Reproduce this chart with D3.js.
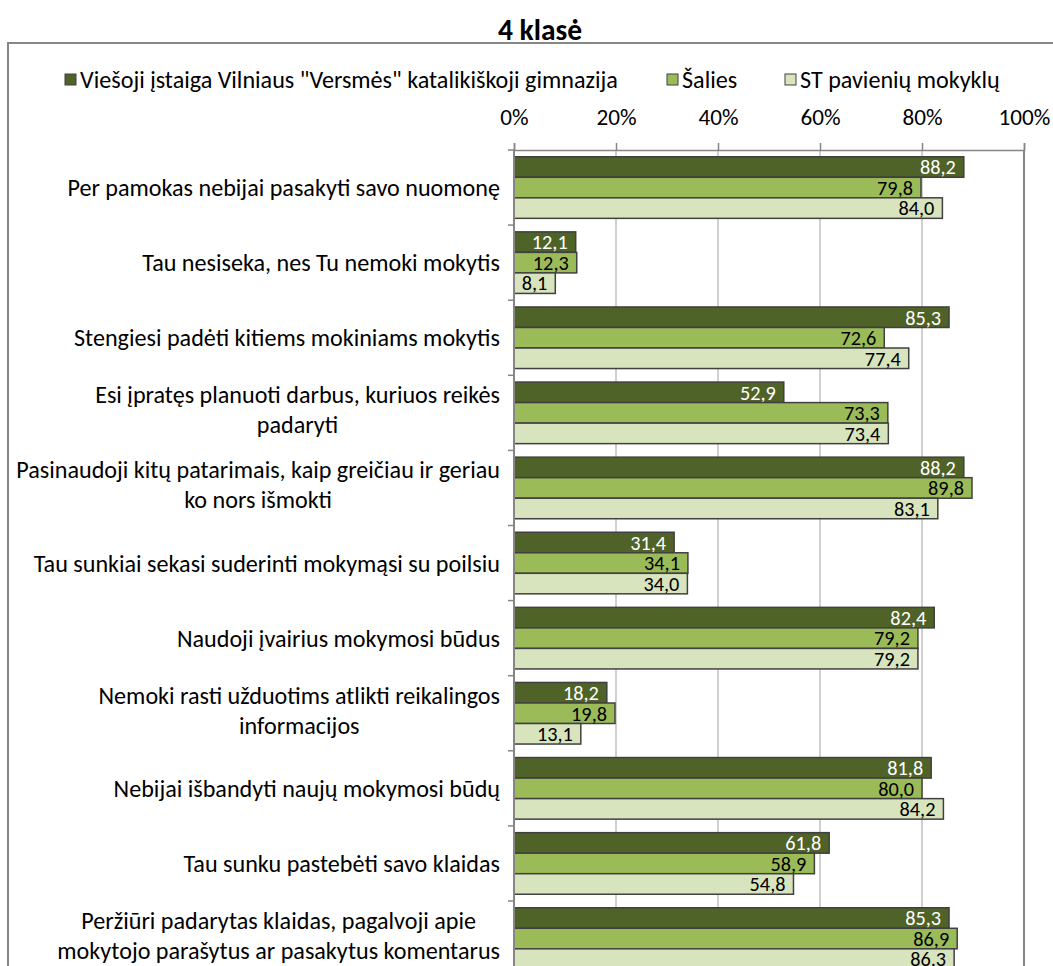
<!DOCTYPE html>
<html><head><meta charset="utf-8">
<script src="https://cdn.jsdelivr.net/npm/d3@7"></script>
<style>
html,body{margin:0;padding:0;background:#fff;}
svg{display:block;font-family:Carlito,Calibri,"Open Sans",sans-serif;}
</style></head><body>
<svg id="c" width="1053" height="966"></svg>
<script>
const categories = [
  ["Per pamokas nebijai pasakyti savo nuomonę"],
  ["Tau nesiseka, nes Tu nemoki mokytis"],
  ["Stengiesi padėti kitiems mokiniams mokytis"],
  ["Esi įpratęs planuoti darbus, kuriuos reikės", "padaryti"],
  ["Pasinaudoji kitų patarimais, kaip greičiau ir geriau", "ko nors išmokti"],
  ["Tau sunkiai sekasi suderinti mokymąsi su poilsiu"],
  ["Naudoji įvairius mokymosi būdus"],
  ["Nemoki rasti užduotims atlikti reikalingos", "informacijos"],
  ["Nebijai išbandyti naujų mokymosi būdų"],
  ["Tau sunku pastebėti savo klaidas"],
  ["Peržiūri padarytas klaidas, pagalvoji apie", "mokytojo parašytus ar pasakytus komentarus"]
];
const seriesNames = ["Viešoji įstaiga Vilniaus \"Versmės\" katalikiškoji gimnazija", "Šalies", "ST pavienių mokyklų"];
const gymnasium = [88.2, 12.1, 85.3, 52.9, 88.2, 31.4, 82.4, 18.2, 81.8, 61.8, 85.3];
const country   = [79.8, 12.3, 72.6, 73.3, 89.8, 34.1, 79.2, 19.8, 80.0, 58.9, 86.9];
const stSchools = [84.0, 8.1, 77.4, 73.4, 83.1, 34.0, 79.2, 13.1, 84.2, 54.8, 86.3];
const tickValues = [0, 20, 40, 60, 80, 100];
const title = "4 klasė";

const colors = ["#4f6228", "#9bbb59", "#d7e4bd"];
const labelColors = ["#ffffff", "#000000", "#000000"];
const series = [gymnasium, country, stSchools];

const svg = d3.select("#c");

// calibrate font size so the longest single-line label has the reference's width
const probe = svg.append("text").attr("font-size", 100).text(categories[0][0]);
const FS = Math.min(26, 100 * 433 / probe.node().getComputedTextLength());
probe.remove();

// chart border
svg.append("rect").attr("x", 8).attr("y", 43).attr("width", 1100).attr("height", 1000)
  .attr("fill", "#fff").attr("stroke", "#868686").attr("stroke-width", 2);

svg.append("text").attr("x", 540).attr("y", 40).attr("text-anchor", "middle")
  .attr("font-size", FS * 1.22).attr("font-weight", "bold").text(title);

const pLeft = 514, pRight = 1024, pTop = 150;
const bandH = 75.1;
const x = d3.scaleLinear().domain([0, 100]).range([pLeft, pRight]);
const y = d3.scaleBand().domain(d3.range(categories.length)).range([pTop, pTop + bandH * categories.length]).paddingInner(0.18).paddingOuter(0.09);
const yi = d3.scaleBand().domain([0, 1, 2]).range([0, y.bandwidth()]);

// gridlines
svg.append("g").selectAll("line").data(tickValues.slice(1)).join("line")
  .attr("x1", d => x(d)).attr("x2", d => x(d)).attr("y1", pTop).attr("y2", 1000)
  .attr("stroke", d => d === 100 ? "#868686" : "#c0c0c0").attr("stroke-width", d => d === 100 ? 2 : 1.5);

// top axis
const xAxis = d3.axisTop(x).tickValues(tickValues).tickSize(7).tickFormat(d => d + "%");
const gx = svg.append("g").attr("transform", `translate(0,${pTop})`).call(xAxis);
gx.select(".domain").attr("stroke", "#868686").attr("stroke-width", 1.5);
gx.selectAll(".tick line").attr("stroke", "#868686").attr("stroke-width", 1.5);
gx.attr("font-family", null).attr("font-size", FS * 0.96);
gx.selectAll(".tick text").attr("fill", "#000").attr("dy", "0.35em").attr("y", -33);

// bars
const groups = svg.append("g").selectAll("g").data(categories).join("g")
  .attr("transform", (d, i) => `translate(0,${y(i)})`);
groups.each(function(c, i) {
  const g = d3.select(this);
  series.forEach((s, k) => {
    g.append("rect").attr("x", x(0)).attr("y", yi(k)).attr("width", x(s[i]) - x(0)).attr("height", yi.bandwidth())
      .attr("fill", colors[k]).attr("stroke", "#404040").attr("stroke-width", 1.5);
    g.append("text").attr("x", x(s[i]) - 8).attr("y", yi(k) + yi.bandwidth() / 2).attr("dy", "0.36em")
      .attr("text-anchor", "end").attr("font-size", FS * 0.84).attr("fill", labelColors[k])
      .text(d3.format(".1f")(s[i]).replace(".", ","));
  });
});

// left axis
const yAxisLine = svg.append("g");
yAxisLine.append("line").attr("x1", pLeft).attr("x2", pLeft).attr("y1", pTop).attr("y2", 1000)
  .attr("stroke", "#868686").attr("stroke-width", 2);
yAxisLine.selectAll("line.t").data(d3.range(categories.length + 1)).join("line").attr("class", "t")
  .attr("x1", pLeft - 6).attr("x2", pLeft).attr("y1", d => pTop + d * bandH).attr("y2", d => pTop + d * bandH)
  .attr("stroke", "#868686").attr("stroke-width", 1.5);

// category labels
const labels = svg.append("g").attr("font-size", FS).attr("fill", "#000");
categories.forEach((lines, i) => {
  const cy = y(i) + y.bandwidth() / 2 - (lines.length > 1 ? 3 : 0);
  const t = labels.append("text").attr("text-anchor", "middle");
  const lh = 30;
  lines.forEach((ln, j) => {
    t.append("tspan").attr("y", cy + (j - (lines.length - 1) / 2) * lh).attr("dy", "0.35em").text(ln);
  });
  let maxW = 0;
  t.selectAll("tspan").each(function() { maxW = Math.max(maxW, this.getComputedTextLength()); });
  t.selectAll("tspan").attr("x", 500 - maxW / 2);
});

// legend
const legend = svg.append("g").attr("font-size", FS);
const legX = [65, 667, 785];
seriesNames.forEach((n, k) => {
  legend.append("rect").attr("x", legX[k]).attr("y", 74).attr("width", 11).attr("height", 11)
    .attr("fill", colors[k]).attr("stroke", "#404040").attr("stroke-width", 1);
  legend.append("text").attr("x", legX[k] + 15).attr("y", 80).attr("dy", "0.35em").text(n);
});
</script>
</body></html>
